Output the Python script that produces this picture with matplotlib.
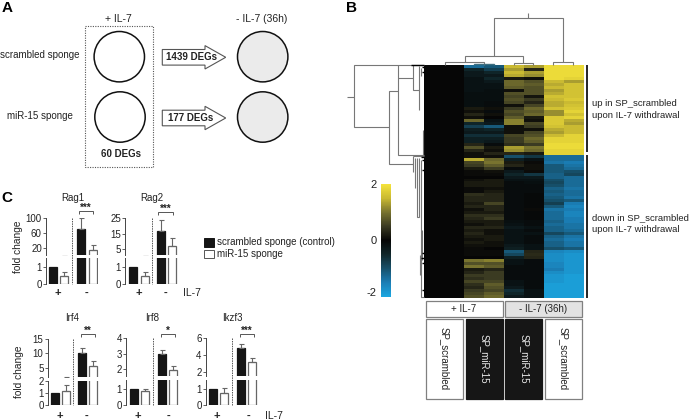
import matplotlib
matplotlib.use("Agg")
import matplotlib.pyplot as plt
import numpy as np
from matplotlib.colors import LinearSegmentedColormap
from matplotlib.patches import Circle, Polygon, Rectangle

plt.rcParams['font.family'] = ['Liberation Sans', 'DejaVu Sans']
W, H = 691, 420

# ---------- data ----------
de_genes = ["1439 DEGs", "177 DEGs", "60 DEGs"]
sponge_labels = ["scrambled sponge", "miR-15 sponge"]
heat_columns = ["SP_scrambled", "SP_miR-15", "SP_miR-15", "SP_scrambled"]

# columns: miR-15 +IL-7 (2), miR-15 -IL-7 (2), scrambled -IL-7 (2)
heat_up = [
    (-1.3,-1.1,1.5,1.3,1.9,1.9), (-.5,-.8,1.3,.3,1.9,1.9), (-.3,-.5,1.5,1.3,1.9,1.9),
    (-.3,-.3,1.4,1.2,1.9,1.9), (-.2,-.5,.2,.1,1.9,1.8), (-.2,-.3,.9,.7,1.5,1.3),
    (-.2,-.2,.9,.8,1.4,1.6), (-.2,-.2,.8,.7,1.5,1.6), (-.2,-.15,.1,.7,1.3,1.6),
    (-.15,-.15,.7,.7,1.4,1.6), (-.15,-.15,.6,.15,1.6,1.6), (-.15,-.15,.7,.5,1.5,1.7),
    (-.15,-.1,.6,.3,1.4,1.5), (-.15,-.1,.1,.6,1.4,1.6), (.2,.1,.5,.9,1.6,1.7),
    (.1,-.1,.7,.8,1.2,1.8), (.3,.1,.6,.9,1.2,1.6), (.1,0,.8,.2,1.7,1.8),
    (.9,-.2,1.1,.1,1.7,1.4), (-.5,-.3,1.1,.6,1.7,1.3), (-.8,-1.1,.1,.5,1.6,1.5),
    (-.4,-.5,.1,.1,1.4,1.5), (-.3,-.3,.1,.6,1.3,1.5), (-.6,-.6,.6,.7,1.5,1.8),
    (-.4,-.4,.5,.9,1.8,1.8), (-.4,-.3,.5,.8,1.8,1.8), (.3,-.1,.4,.5,1.9,1.9),
    (.7,.2,1.3,1.0,1.9,1.9), (.3,.1,1.2,.9,1.8,1.8), (.1,.3,.3,.2,1.8,1.8),
]
heat_down = [
    (.1,.1,-1.0,-.7,-1.3,-1.3), (1.4,.9,-.4,-.2,-1.3,-1.3), (.6,1.0,.2,.05,-1.4,-1.5),
    (.5,.8,.3,.1,-1.1,-1.4), (.2,.5,-.1,.1,-1.1,-1.3), (.05,.1,-.3,.05,-1.1,-1.0),
    (.05,.05,-.5,-.7,-1.2,-.9), (0,0,-.3,-.3,-1.2,-1.3), (.1,.2,-.2,-.2,-1.0,-1.3),
    (.2,.2,-.1,-.15,-.9,-1.3), (.2,.2,-.1,-.1,-1.0,-1.3), (.05,.1,-.1,-.1,-1.2,-1.4),
    (.05,.2,-.1,-.1,-1.1,-1.3), (.4,.3,-.1,-.05,-1.2,-1.3), (.3,.3,-.1,-.05,-1.1,-1.4),
    (.3,.3,-.1,-.05,-1.0,-1.1), (.2,.6,-.1,-.05,-.8,-1.5), (.3,.3,-.1,-.05,-1.1,-1.6),
    (.1,.3,-.1,.05,-1.4,-1.5), (.2,.2,-.1,-.05,-1.3,-1.6), (.4,.4,-.1,-.05,-1.3,-1.6),
    (.3,.5,-.1,-.05,-1.3,-1.5), (.2,.2,-.15,-.1,-1.2,-1.5), (.1,.2,-.2,-.1,-1.3,-1.4),
    (.3,.3,-.3,-.2,-1.2,-1.4), (.2,.1,-.2,-.1,-1.2,-1.3), (.3,.1,-.2,-.2,-.9,-1.1),
    (.2,.2,-.2,-.1,-1.2,-1.4), (.1,.2,-.2,-.1,-1.3,-1.5), (.2,.1,-.2,-.1,-1.2,-1.4),
    (.1,.1,-.3,-.2,-1.2,-1.4), (.05,0,-.4,-.2,-1.0,-1.1), (.05,.05,-1.1,.3,-1.6,-1.7),
    (.05,.05,-.9,.35,-1.7,-1.8), (0,0,-.4,.3,-1.7,-1.8), (1.0,1.1,-.2,-.1,-1.7,-1.8),
    (.7,.7,-.2,-.1,-1.6,-1.8), (1.0,.8,-.1,-.1,-1.6,-1.8), (.2,.3,-.1,-.1,-1.5,-1.8),
    (.3,.5,-.1,-.1,-1.7,-1.8), (.5,.5,-.1,-.1,-1.8,-1.9), (.4,.5,-.1,-.1,-1.8,-1.9),
    (.6,.6,-.2,-.1,-1.8,-1.9), (.4,.8,-.2,-.1,-1.9,-1.9), (.3,.7,-.3,-.1,-1.9,-1.9),
    (.5,.6,-.6,-.2,-1.9,-1.9), (.6,.8,-.5,-.2,-1.9,-1.9), (.7,.9,-.3,-.2,-1.9,-1.9),
]

rag1_vals = [1, 0.5, 71, 16]
rag1_errs = [0, 0.24, 27, 13]
rag2_vals = [1, 0.5, 16.7, 7]
rag2_errs = [0, 0.24, 6.8, 5]
irf4_vals = [1, 1.15, 10, 5.7]
irf4_errs = [0, 0.48, 2, 1.8]
irf8_vals = [1, 0.85, 2.98, 1.95]
irf8_errs = [0, 0.13, 0.24, 0.25]
ikzf3_vals = [1, 0.72, 4.84, 3.16]
ikzf3_errs = [0, 0.3, 0.46, 0.48]

# ---------- canvas ----------
fig = plt.figure(figsize=(W / 100, H / 100), dpi=100, facecolor='white')
ov = fig.add_axes([0, 0, 1, 1], zorder=5)
ov.set_xlim(0, W); ov.set_ylim(H, 0); ov.axis('off'); ov.patch.set_alpha(0)


def axpx(x0, y0, x1, y1, **kw):
    return fig.add_axes([x0 / W, 1 - y1 / H, (x1 - x0) / W, (y1 - y0) / H], **kw)


def txt(x, y, s, size=7, ha='center', va='center', **kw):
    kw.setdefault('color', '#222222')
    ov.text(x, y, s, fontsize=size, ha=ha, va=va, **kw)


def seg(points, color='#777777', lw=0.8):
    xs, ys = zip(*points)
    ov.plot(xs, ys, color=color, lw=lw, solid_capstyle='butt', solid_joinstyle='miter')


for x, y, s in [(2, 8, 'A'), (346, 8, 'B'), (1, 198, 'C')]:
    txt(x, y, s, size=11, ha='left', fontweight='bold', color='black')

# ---------- panel A ----------
txt(118, 19, '+ IL-7', 7.5)
txt(262, 19, '- IL-7 (36h)', 7.5)
txt(40, 55, sponge_labels[0], 7)
txt(39.5, 116, sponge_labels[1], 7)
ov.add_patch(Rectangle((85, 25.7), 67.7, 141, fill=False, ec='#555555', lw=0.8, ls=(0, (1, 1.2))))
for cx, cy, fc in [(119.3, 56.7, 'white'), (120, 117, 'white'),
                   (262.7, 56.7, '#ebebeb'), (262.7, 117, '#ebebeb')]:
    ov.add_patch(Circle((cx, cy), 25.2, fc=fc, ec='#111111', lw=1.1))
for cy, s, tx in [(57.3, de_genes[0], 191.7), (118, de_genes[1], 190.7)]:
    ov.add_patch(Polygon([(162.3, cy - 7.8), (205, cy - 7.8), (205, cy - 11.7), (225.7, cy),
                          (205, cy + 11.7), (205, cy + 7.8), (162.3, cy + 7.8)],
                         fc='white', ec='#555555', lw=0.8))
    txt(tx, cy, s, 7, fontweight='bold')
txt(120.7, 154.3, de_genes[2], 7, fontweight='bold')

# ---------- panel B ----------
cmap = LinearSegmentedColormap.from_list('heat', [
    (0.0, '#1ba6e0'), (0.125, '#1b7db4'), (0.25, '#17506a'), (0.375, '#10262a'), (0.5, '#060606'),
    (0.625, '#3a3a22'), (0.75, '#77722f'), (0.875, '#c9b932'), (1.0, '#f5e33b')])
rows = np.array(heat_up + heat_down, dtype=float)
matrix = np.hstack([np.zeros((len(rows), 2)), rows])
hax = axpx(424, 65, 583, 298)
im = hax.imshow(matrix, cmap=cmap, vmin=-2, vmax=2, aspect='auto', interpolation='nearest')
hax.axis('off')

cax = axpx(381, 184, 391, 296.7)
cb = fig.colorbar(im, cax=cax)
cb.outline.set_visible(False)
cb.set_ticks([])
txt(377, 185, '2', 8, ha='right')
txt(377, 240.7, '0', 8, ha='right')
txt(377, 293, '-2', 8, ha='right')

# row dendrogram
for pts in [
    [(347, 96.5), (354, 96.5)],
    [(424, 65), (354, 65), (354, 127), (389, 127)],
    [(398, 91), (389, 91), (389, 164), (413, 164)],
    [(398, 65), (398, 155), (424, 155)],
    [(398, 78), (413, 78)],
    [(413, 65), (413, 90), (419, 90)],
    [(419, 66), (419, 110)],
    [(421, 68), (421, 76)],
    [(423, 130), (423, 155)],
    [(413, 156), (413, 172)],
    [(413, 156), (424, 156)],
    [(415, 158), (415, 188)],
    [(417, 158), (417, 217), (419, 217), (419, 158)],
    [(421, 160), (421, 297), (424, 297)],
    [(422, 230), (422, 260)],
    [(420, 255), (420, 275)],
]:
    seg(pts)
# dense leaves of the row tree merging into the black block
for pts in [
    [(411, 65), (424, 65)], [(422, 67), (424, 67)], [(422, 72), (424, 72)],
    [(421, 157), (424, 157)], [(422, 160), (424, 160)], [(422, 170), (424, 170)],
    [(422, 253), (424, 253)], [(421.5, 258), (424, 258)], [(422, 263), (424, 263)],
    [(422.5, 290), (424, 290)],
]:
    seg(pts, color='black', lw=1.0)
# column dendrogram
for pts in [
    [(528, 13), (528, 18)],
    [(494, 56), (494, 18), (563, 18), (563, 62)],
    [(465, 62), (465, 56), (523, 56), (523, 63)],
    [(445, 65), (445, 62), (484, 62), (484, 65)],
    [(514, 65), (514, 63), (533, 63), (533, 65)],
    [(553, 65), (553, 62), (573, 62), (573, 65)],
]:
    seg(pts)
seg([(474, 65), (474, 63.5), (494, 63.5), (494, 65)], color='#3f6f80', lw=1.0)

seg([(587, 65), (587, 152)], color='black', lw=1.2)
seg([(587, 155), (587, 298)], color='black', lw=1.2)
txt(592, 103, 'up in SP_scrambled', 6.8, ha='left')
txt(592, 115, 'upon IL-7 withdrawal', 6.8, ha='left')
txt(592, 218, 'down in SP_scrambled', 6.8, ha='left')
txt(592, 230, 'upon IL-7 withdrawal', 6.8, ha='left')

ov.add_patch(Rectangle((425.7, 300.7), 77, 16, fc='white', ec='#808080', lw=0.9))
ov.add_patch(Rectangle((505, 300.7), 77, 16, fc='#e2e2e2', ec='#808080', lw=0.9))
txt(464, 309, '+ IL-7', 7)
txt(543.5, 309, '- IL-7 (36h)', 7)
for x0, s in zip([425.7, 465.7, 505.3, 544.7], heat_columns):
    dark = 'miR' in s
    ov.add_patch(Rectangle((x0, 319), 37, 79.7, fc='#161616' if dark else 'white',
                           ec='#808080' if not dark else '#161616', lw=0.9))
    txt(x0 + 19, 358.5, s, 7, rotation=270, color='#e8e8e8' if dark else '#222222')

# ---------- panel C ----------


def panel(x_axis, bars, y0, y_lo_top, y_hi_bot, y_hi_top, lo_lim, hi_lim,
          lo_ticks, hi_ticks, vals, errs, title, title_x, title_y, dash_x,
          br, br_y, stars):
    right = bars[3] + 6
    lo = axpx(x_axis, y_lo_top, right, y0)
    hi = axpx(x_axis, y_hi_top, right, y_hi_bot)
    for ax, lim, ticks in [(lo, lo_lim, lo_ticks), (hi, hi_lim, hi_ticks)]:
        ax.patch.set_alpha(0)
        ax.set_xlim(x_axis, right)
        ax.set_ylim(*lim)
        ax.bar(bars, vals, width=8, color=['#151515', 'white', '#151515', 'white'],
               edgecolor=['#151515', '#666666', '#151515', '#666666'], linewidth=0.9)
        ax.errorbar(bars[1:], vals[1:], yerr=[np.zeros(3), errs[1:]], fmt='none',
                    ecolor='#666666', elinewidth=0.8, capsize=1.8, capthick=0.8)
        for s in ('top', 'right', 'bottom'):
            ax.spines[s].set_visible(False)
        ax.spines['left'].set_color('#444444')
        ax.spines['left'].set_linewidth(0.7)
        ax.set_xticks([])
        ax.set_yticks(ticks)
        ax.tick_params(axis='y', length=2, width=0.6, pad=1, labelsize=7,
                       color='#444444', labelcolor='#222222')
    txt(title_x, title_y, title, 7)
    ov.plot([dash_x, dash_x], [y_hi_top, y0], color='#555555', lw=0.7, ls=(0, (1.5, 1)))
    seg([(br[0], br_y + 3), (br[0], br_y), (br[1], br_y), (br[1], br_y + 3)], color='#555555', lw=0.7)
    txt((br[0] + br[1]) / 2, br_y - 3, stars, 7, fontweight='bold')


y_top = dict(y0=284, y_lo_top=258, y_hi_bot=255)
panel(46, [53.5, 64, 81, 92.5], y_hi_top=217.7, lo_lim=(0, 1.56), hi_lim=(2.5, 100),
      lo_ticks=[0, 1], hi_ticks=[20, 60, 100], vals=rag1_vals, errs=rag1_errs, title='Rag1',
      title_x=72.7, title_y=197.7, dash_x=72.5, br=(79, 93.3), br_y=210.7, stars='***', **y_top)
panel(125, [133.2, 144.5, 160.8, 172.2], y_hi_top=217.7, lo_lim=(0, 1.56), hi_lim=(1.4, 25),
      lo_ticks=[0, 1], hi_ticks=[5, 15, 25], vals=rag2_vals, errs=rag2_errs, title='Rag2',
      title_x=151.7, title_y=197.7, dash_x=152.3, br=(158.3, 172.7), br_y=212, stars='***', **y_top)
y_bot = dict(y0=405, title_y=318.3, br_y=334)
panel(47.7, [54.7, 65.7, 82.3, 93.3], y_lo_top=381, y_hi_bot=376.7, y_hi_top=339,
      lo_lim=(0, 2), hi_lim=(1.86, 15), lo_ticks=[0, 1, 2], hi_ticks=[5, 10, 15],
      vals=irf4_vals, errs=irf4_errs, title='Irf4', title_x=72.3, dash_x=73.3,
      br=(81, 95), stars='**', **y_bot)
panel(126, [133.7, 145, 161.7, 173], y_lo_top=380.3, y_hi_bot=376, y_hi_top=338.3,
      lo_lim=(0, 1.5), hi_lim=(1.54, 4), lo_ticks=[0, 1], hi_ticks=[2, 3, 4],
      vals=irf8_vals, errs=irf8_errs, title='Irf8', title_x=152, dash_x=152.7,
      br=(160.7, 174.7), stars='*', **y_bot)
panel(205.7, [213.3, 224.3, 241, 252.3], y_lo_top=380.3, y_hi_bot=376, y_hi_top=338.3,
      lo_lim=(0, 1.5), hi_lim=(1.52, 6), lo_ticks=[0, 1], hi_ticks=[2, 4, 6],
      vals=ikzf3_vals, errs=ikzf3_errs, title='Ikzf3', title_x=232.3, dash_x=232.3,
      br=(239.7, 253.7), stars='***', **y_bot)

txt(18.3, 246.7, 'fold change', 7.3, rotation=90)
txt(19, 371.7, 'fold change', 7.3, rotation=90)
for x, y, s in [(58.3, 293.3, '+'), (86.7, 293.3, '-'), (139, 293.3, '+'), (165.7, 293.3, '-'),
                (60, 415.5, '+'), (86.7, 415.5, '-'), (137.7, 415.5, '+'), (169, 415.5, '-'),
                (217.3, 415.5, '+'), (248.3, 415.5, '-')]:
    txt(x, y, s, 8, fontweight='bold')
txt(183.3, 293.5, 'IL-7', 7.5, ha='left')
txt(265, 416, 'IL-7', 7.5, ha='left')

ov.add_patch(Rectangle((204, 237.7), 10.3, 9.6, fc='#151515', ec='#151515', lw=0.7))
ov.add_patch(Rectangle((204, 250.2), 10.3, 8, fc='white', ec='#555555', lw=0.7))
txt(216.7, 242.3, 'scrambled sponge (control)', 7, ha='left')
txt(216.7, 254.3, 'miR-15 sponge', 7, ha='left')

fig.savefig('out.png', dpi=100, facecolor='white')
